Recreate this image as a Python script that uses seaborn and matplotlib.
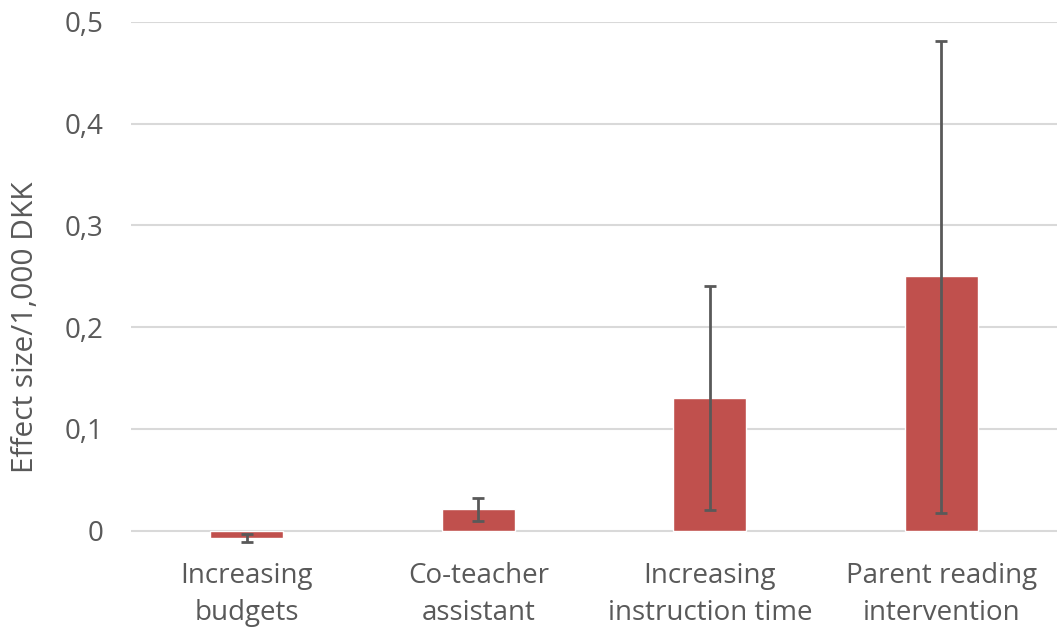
import matplotlib
matplotlib.use("Agg")
import matplotlib.pyplot as plt
import seaborn as sns
import pandas as pd
import numpy as np

categories = ["Increasing\nbudgets", "Co-teacher\nassistant", "Increasing\ninstruction time", "Parent reading\nintervention"]
effect = [-0.007, 0.021, 0.13, 0.25]
ci_low = [-0.011, 0.009, 0.02, 0.017]
ci_high = [-0.003, 0.032, 0.24, 0.481]
yticks = [0, 0.1, 0.2, 0.3, 0.4, 0.5]
ytick_labels = ["0", "0,1", "0,2", "0,3", "0,4", "0,5"]

sns.set_theme(style="white")
plt.rcParams['font.family'] = ['Open Sans', 'DejaVu Sans']

df = pd.DataFrame({"category": categories, "effect": effect})

fig = plt.figure(figsize=(10.57, 6.3), dpi=100)
ax = fig.add_axes([0.124, 0.1254, 0.876, 0.8397])
sns.barplot(data=df, x="category", y="effect", color="#C0504D", width=0.315,
            saturation=1, ax=ax, errorbar=None, zorder=2)
x = np.arange(len(categories))
eff = np.array(effect)
yerr = np.vstack([eff - np.array(ci_low), np.array(ci_high) - eff])
ax.errorbar(x, eff, yerr=yerr, fmt="none", ecolor="#595959", elinewidth=2,
            capsize=4.5, capthick=2, zorder=3)

ax.set_ylim(-0.02, 0.5)
ax.set_xlim(-0.5, 3.5)
ax.set_yticks(yticks)
ax.set_yticklabels(ytick_labels)
ax.yaxis.grid(True, color="#D9D9D9", linewidth=1.5, zorder=0)
ax.set_axisbelow(True)
for s in ax.spines.values():
    s.set_visible(False)
ax.tick_params(axis="both", length=0, labelsize=20, colors="#595959")
ax.tick_params(axis="x", pad=8)
ax.tick_params(axis="y", pad=20)
for lbl in ax.get_xticklabels():
    lbl.set_linespacing(1.4)
ax.set_xlabel("")
ax.set_ylabel("Effect size/1,000 DKK", fontsize=21.5, color="#595959")
ax.yaxis.set_label_coords(-0.098, 0.4225)

fig.savefig("out.png", dpi=100)
